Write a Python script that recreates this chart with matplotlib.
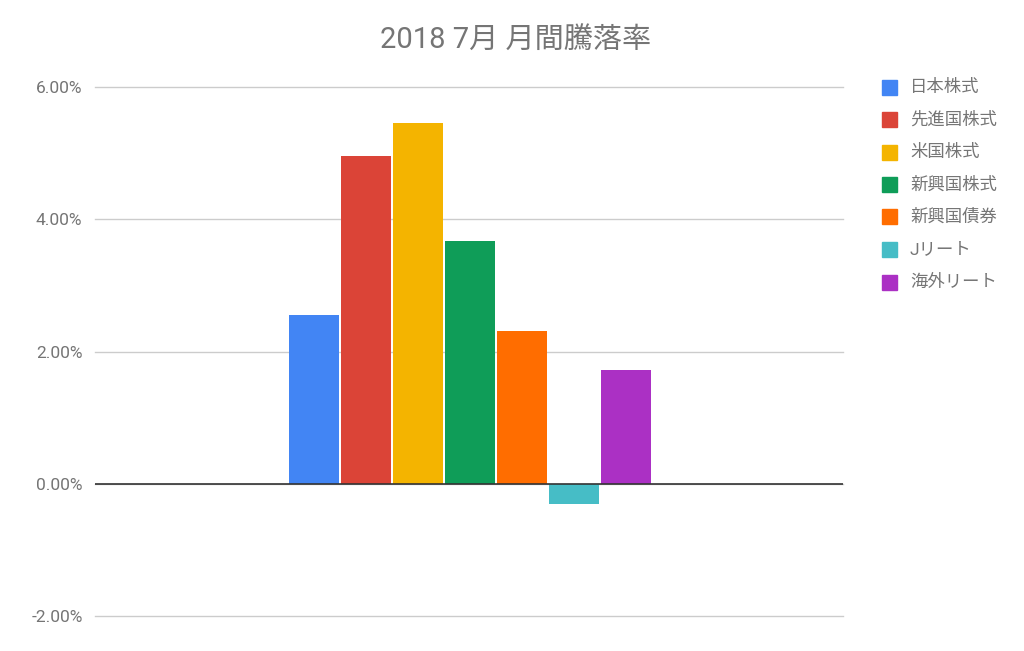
import matplotlib
matplotlib.use("Agg")
import matplotlib.pyplot as plt
from matplotlib.ticker import FuncFormatter

plt.rcParams['font.family'] = ['Roboto', 'Noto Sans CJK JP', 'DejaVu Sans']

# monthly return per asset class, July 2018 (%)
names = ["日本株式", "先進国株式", "米国株式", "新興国株式", "新興国債券", "Jリート", "海外リート"]
returns = [2.55, 4.96, 5.46, 3.67, 2.31, -0.30, 1.72]
colors = ["#4285f4", "#db4437", "#f4b400", "#0f9d58", "#ff6d00", "#46bdc6", "#ab30c4"]
yticks = [-2, 0, 2, 4, 6]

W, H = 1024, 651
fig = plt.figure(figsize=(W / 100, H / 100), dpi=100)
ax = fig.add_axes([95 / W, (H - 616) / H, (843 - 95) / W, (616 - 87) / H])

n = len(names)
for i, (name, val, c) in enumerate(zip(names, returns, colors)):
    ax.bar(i - (n - 1) / 2 + 0.02, val, width=50 / 52, color=c, label=name, zorder=3)

ax.set_xlim(-748 / 104, 748 / 104)
ax.set_ylim(-2, 6)
ax.set_yticks(yticks)
ax.yaxis.set_major_formatter(FuncFormatter(lambda v, p: "%.2f%%" % v))
ax.set_xticks([])
ax.grid(axis='y', color='#cccccc', linewidth=1, zorder=0)
for gl in ax.get_ygridlines():
    gl.set_clip_on(False)
ax.axhline(0, color='#333333', linewidth=1.2, zorder=4)
for s in ax.spines.values():
    s.set_visible(False)
ax.tick_params(axis='y', length=0, pad=9, labelsize=12.5, labelcolor='#757575')

fig.text(516 / W, 1 - 40 / H, "2018 7月 月間騰落率", ha='center', va='center',
         fontsize=21, color='#757575')

# legend drawn by hand to match Google Sheets spacing
for i, (name, c) in enumerate(zip(names, colors)):
    y = 1 - (87 + i * 32.5) / H
    fig.patches.append(plt.Rectangle((882 / W, y - 7.5 / H), 15 / W, 15 / H,
                                     transform=fig.transFigure, color=c))
    fig.text(910 / W, y, name, ha='left', va='center', fontsize=12.5, color='#757575')

fig.savefig("out.png", dpi=100, facecolor='white')
